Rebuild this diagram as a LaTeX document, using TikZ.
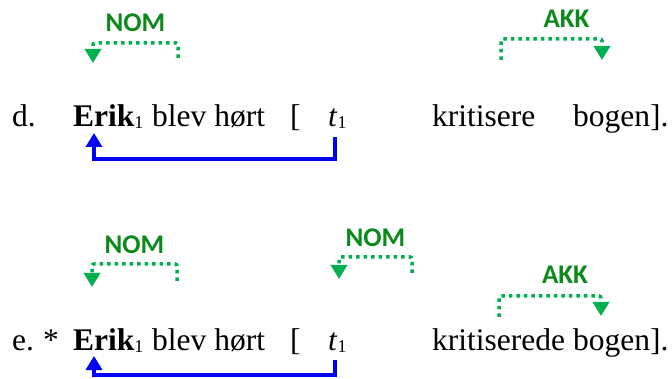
\documentclass[tikz,border=0pt]{standalone}
\usepackage{fontspec}
\setmainfont{Liberation Serif}
\newfontfamily\casefont{Carlito}
\usetikzlibrary{arrows.meta}
\definecolor{caseline}{HTML}{00B050}
\definecolor{casetext}{HTML}{0B8A1A}
\definecolor{moveblue}{HTML}{0000FF}
\newcommand{\coidx}[1]{\raisebox{-2pt}{\fontsize{18}{18}\selectfont #1}}

\tikzset{
  word/.style={anchor=base west, inner sep=0pt, font=\fontsize{31.5}{38}\selectfont},
  move/.style={moveblue, line width=4pt, -{Triangle[width=16pt,length=14pt]}},
  assign/.style={caseline, line width=3.5pt, dash pattern=on 3.5pt off 4pt,
    rounded corners=2pt, -{Triangle[width=16pt,length=14pt]}},
  casetag/.style={text=casetext, inner sep=0pt, font=\casefont\bfseries\fontsize{27}{30}\selectfont},
}

\begin{document}
\begin{tikzpicture}[x=1pt, y=1pt]
    \useasboundingbox (0,0) rectangle (672,-379);

    % d.
    \node[word] (dLbl)  at (12,-127)  {d.};
    \node[word] (dErik) at (73,-127)  {\textbf{Erik}\coidx{1}};
    \node[word] (dBlev) at (152,-127) {blev hørt};
    \node[word] (dBrk)  at (290,-127) {[};
    \node[word] (dT)    at (328,-127) {\textit{t}\coidx{1}};
    \node[word] (dVerb) at (432,-127) {kritisere};
    \node[word] (dObj)  at (573,-127) {bogen].};

    \coordinate (dNomSrc) at ([xshift=26pt,yshift=69pt]dBlev.base west);
    \coordinate (dNomDst) at ([xshift=20pt,yshift=64pt]dErik.base west);
    \coordinate (dAkkSrc) at ([xshift=69pt,yshift=67pt]dVerb.base west);
    \coordinate (dAkkDst) at ([xshift=29pt,yshift=67pt]dObj.base west);
    \coordinate (dTrace)  at ([xshift=7pt,yshift=-10pt]dT.base west);
    \coordinate (dAnte)   at ([xshift=21pt,yshift=-6pt]dErik.base west);

    \draw[assign] (dNomSrc) -- ++(0,15) -| node[casetag, pos=0.25, above=10pt] {NOM} (dNomDst);
    \draw[assign] (dAkkSrc) -- ++(0,21) -| node[casetag, pos=0.25, above=10pt, xshift=15pt] {AKK} (dAkkDst);
    \draw[move] (dTrace) -- ++(0,-22) -| (dAnte);

    % e.
    \node[word] (eLbl)  at (12,-350)  {e.};
    \node[word] (eStar) at (43,-350)  {*};
    \node[word] (eErik) at (73,-350)  {\textbf{Erik}\coidx{1}};
    \node[word] (eBlev) at (152,-350) {blev hørt};
    \node[word] (eBrk)  at (290,-350) {[};
    \node[word] (eT)    at (328,-350) {\textit{t}\coidx{1}};
    \node[word] (eVerb) at (432,-350) {kritiserede};
    \node[word] (eObj)  at (573,-350) {bogen].};

    \coordinate (eNomSrc)  at ([xshift=25pt,yshift=69pt]eBlev.base west);
    \coordinate (eNomDst)  at ([xshift=19pt,yshift=63pt]eErik.base west);
    \coordinate (eNom2Src) at ([xshift=-20pt,yshift=77pt]eVerb.base west);
    \coordinate (eNom2Dst) at ([xshift=11pt,yshift=71pt]eT.base west);
    \coordinate (eAkkSrc)  at ([xshift=67pt,yshift=33pt]eVerb.base west);
    \coordinate (eAkkDst)  at ([xshift=28pt,yshift=34pt]eObj.base west);
    \coordinate (eTrace)   at ([xshift=7pt,yshift=-10pt]eT.base west);
    \coordinate (eAnte)    at ([xshift=21pt,yshift=-6pt]eErik.base west);

    \draw[assign] (eNomSrc) -- ++(0,17) -| node[casetag, pos=0.25, above=9pt] {NOM} (eNomDst);
    \draw[assign] (eNom2Src) -- ++(0,16) -| node[casetag, pos=0.25, above=9pt] {NOM} (eNom2Dst);
    \draw[assign] (eAkkSrc) -- ++(0,21) -| node[casetag, pos=0.25, above=11pt, xshift=15pt] {AKK} (eAkkDst);
    \draw[move] (eTrace) -- ++(0,-15) -| (eAnte);
\end{tikzpicture}
\end{document}
